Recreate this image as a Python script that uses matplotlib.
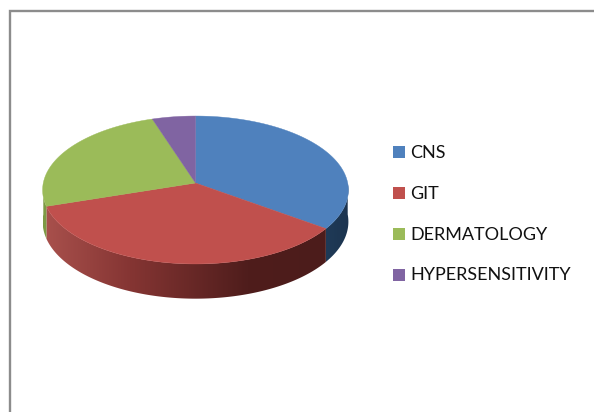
import numpy as np
import matplotlib
matplotlib.use("Agg")
import matplotlib.pyplot as plt
from matplotlib.colors import LinearSegmentedColormap
from matplotlib.patches import Polygon, Rectangle

categories = ["CNS", "GIT", "DERMATOLOGY", "HYPERSENSITIVITY"]
values = [35, 35, 25, 5]
top_colors = ["#4f81bd", "#c0504d", "#9bbb59", "#8064a2"]

# shading of the side wall, left to right
side_shades = {
    "CNS": LinearSegmentedColormap.from_list("c", ["#1f3a57", "#1c344f"]),
    "GIT": LinearSegmentedColormap.from_list(
        "g", [(0, "#a8504c"), (0.3, "#853533"), (0.72, "#4f1d1c"), (1, "#4c1c1b")]
    ),
    "DERMATOLOGY": LinearSegmentedColormap.from_list("d", ["#7d9a45", "#7d9a45"]),
}

# pie geometry in pixels of the picture
cx, cy = 195.5, 183
ra, rb = 152.2, 73.3
persp = 0.0946
depth = 33


def project(theta, drop=0.0):
    # theta runs clockwise from 12 o'clock
    u = np.sin(theta)
    v = -np.cos(theta)
    s = 1 / (1 - persp * v)
    return cx + ra * u * s, cy + rb * v * s + drop * s / 1.05


plt.rcParams["font.family"] = ["Lato", "DejaVu Sans"]
fig = plt.figure(figsize=(5.94, 4.12), dpi=100)
ax = fig.add_axes([0, 0, 1, 1])
ax.axis("off")

# frame of the chart area (top and left only are visible)
ax.plot([10, 10, 594], [412, 10.5, 10.5], color="#8c8c8c", lw=1.7, solid_joinstyle="miter")

edges = np.cumsum([0] + values) / sum(values) * 2 * np.pi

# side wall, gradient image clipped to each visible piece
for i, name in enumerate(categories):
    if name not in side_shades:
        continue
    a0, a1 = max(edges[i], np.pi / 2), min(edges[i + 1], 1.5 * np.pi)
    if a0 >= a1:
        continue
    ts = np.linspace(a0, a1, 200)
    xs, ys = project(ts)
    xb, yb = project(ts, drop=depth)
    wall = Polygon(
        np.column_stack([np.r_[xs, xb[::-1]], np.r_[ys, yb[::-1]]]),
        closed=True, fc="none", ec="none", transform=ax.transData,
    )
    ax.add_patch(wall)
    x0, x1 = min(xs.min(), xb.min()), max(xs.max(), xb.max())
    y0, y1 = min(ys.min(), yb.min()), max(ys.max(), yb.max())
    im = ax.imshow(
        np.linspace(0, 1, 256).reshape(1, -1), cmap=side_shades[name], aspect="auto",
        extent=(x0, x1, y1, y0), interpolation="bilinear",
    )
    im.set_clip_path(wall)

# top face
for i, col in enumerate(top_colors):
    ts = np.linspace(edges[i], edges[i + 1], 200)
    xs, ys = project(ts)
    pts = np.column_stack([np.r_[cx, xs], np.r_[cy, ys]])
    ax.add_patch(Polygon(pts, closed=True, fc=col, ec=col, lw=0.3))

# legend
legend_y = [152, 193, 234, 275]
for name, col, y in zip(categories, top_colors, legend_y):
    ax.add_patch(Rectangle((393, y - 6), 12, 12, fc=col, ec="none"))
    ax.text(410, y + 0.5, name, fontsize=13, color="#111111", va="center", ha="left")

ax.set_xlim(0, 594)
ax.set_ylim(412, 0)

fig.savefig("out.png", dpi=100)
